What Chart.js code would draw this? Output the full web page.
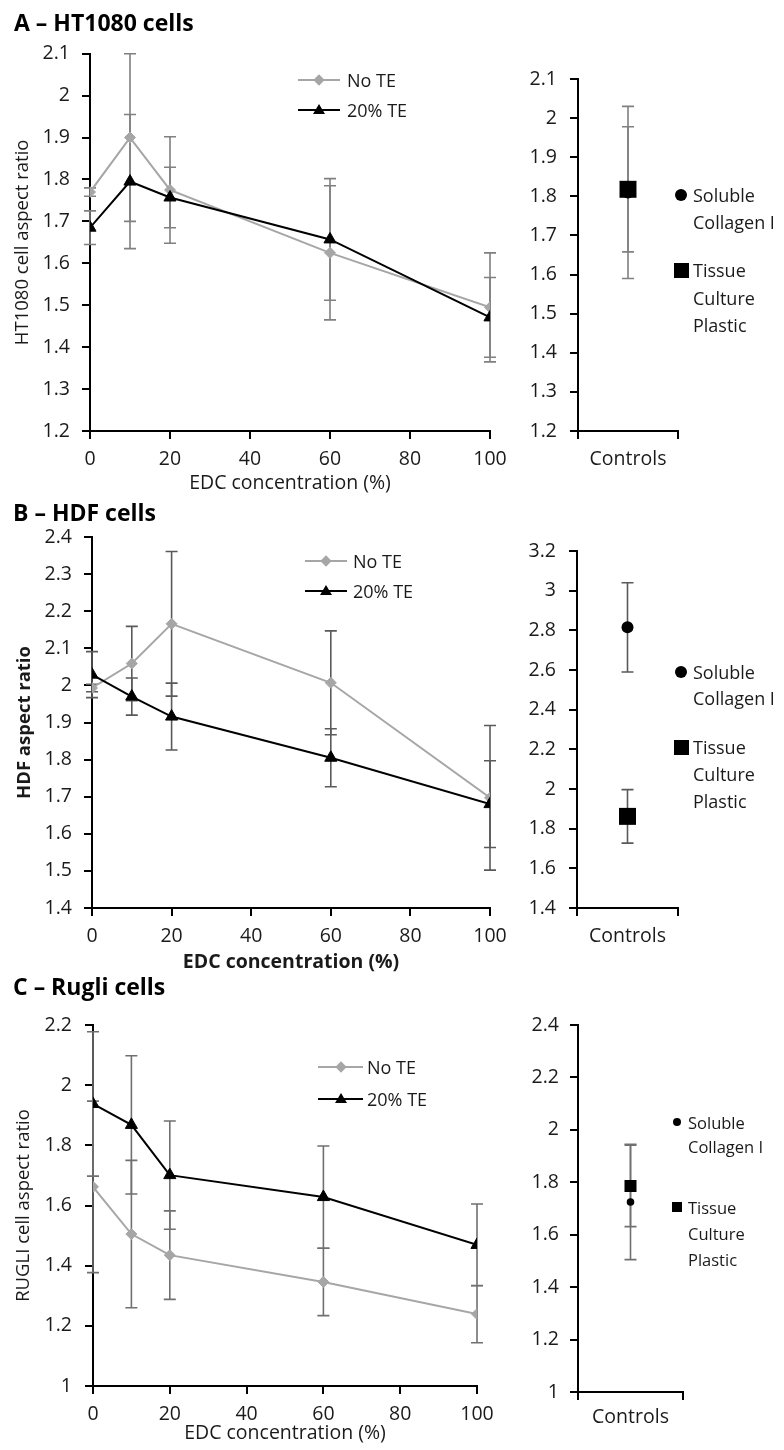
<!DOCTYPE html>
<html><head><meta charset="utf-8">
<script src="https://cdn.jsdelivr.net/npm/chart.js@4.4.1/dist/chart.umd.min.js"></script>
<style>
html,body{margin:0;padding:0;background:#fff;}
body{width:784px;height:1450px;position:relative;overflow:hidden;font-family:'Open Sans',sans-serif;color:#1a1a1a;}
canvas{position:absolute;}
.t{position:absolute;white-space:nowrap;transform:translateY(-50%);line-height:normal;}
.title{font-weight:bold;font-size:23px;color:#000;}
.lg{font-size:18px;}
.lgs{font-size:16.5px;}
.shape{position:absolute;}
</style>
</head><body>
<canvas id="aL"></canvas><canvas id="aR"></canvas>
<canvas id="bL"></canvas><canvas id="bR"></canvas>
<canvas id="cL"></canvas><canvas id="cR"></canvas>
<script>
// ---------- DATA ----------
const edcConc = [0, 10, 20, 60, 100];
const controlsCategory = ['Controls'];
const seriesNames = ['No TE', '20% TE'];
const controlNames = ['Soluble Collagen I', 'Tissue Culture Plastic'];

const ht1080NoTE = [1.77, 1.90, 1.775, 1.625, 1.495];
const ht1080NoTEErr = [0.01, 0.20, 0.127, 0.16, 0.13];
const ht1080TE20 = [1.685, 1.795, 1.757, 1.657, 1.471];
const ht1080TE20Err = [0.04, 0.16, 0.072, 0.145, 0.095];
const ht1080Collagen = [1.81];
const ht1080CollagenErr = [0.22];
const ht1080TCP = [1.818];
const ht1080TCPErr = [0.16];

const hdfNoTE = [1.993, 2.059, 2.166, 2.007, 1.697];
const hdfNoTEErr = [0.01, 0.10, 0.195, 0.14, 0.195];
const hdfTE20 = [2.029, 1.97, 1.916, 1.805, 1.68];
const hdfTE20Err = [0.062, 0.05, 0.09, 0.078, 0.117];
const hdfCollagen = [2.815];
const hdfCollagenErr = [0.225];
const hdfTCP = [1.862];
const hdfTCPErr = [0.135];

const rugliNoTE = [1.662, 1.505, 1.435, 1.346, 1.239];
const rugliNoTEErr = [0.285, 0.245, 0.147, 0.112, 0.095];
const rugliTE20 = [1.9375, 1.868, 1.701, 1.628, 1.469];
const rugliTE20Err = [0.24, 0.23, 0.18, 0.17, 0.136];
const rugliCollagen = [1.725];
const rugliCollagenErr = [0.22];
const rugliTCP = [1.786];
const rugliTCPErr = [0.155];

const xTicks = [0, 20, 40, 60, 80, 100];
const yTicksA = [1.2, 1.3, 1.4, 1.5, 1.6, 1.7, 1.8, 1.9, 2.0, 2.1];
const yTicksB = [1.4, 1.5, 1.6, 1.7, 1.8, 1.9, 2.0, 2.1, 2.2, 2.3, 2.4];
const yTicksBRight = [1.4, 1.6, 1.8, 2.0, 2.2, 2.4, 2.6, 2.8, 3.0, 3.2];
const yTicksC = [1.0, 1.2, 1.4, 1.6, 1.8, 2.0, 2.2];
const yTicksCRight = [1.0, 1.2, 1.4, 1.6, 1.8, 2.0, 2.2, 2.4];

// ---------- HELPERS ----------
const FONT = "'Open Sans', sans-serif";
const FS = 19.5;
const xy = (xs, ys) => xs.map((x, i) => ({x: x, y: ys[i]}));
const fmt = v => String(Math.round(v * 10) / 10);

const errorBars = {
  id: 'errorBars',
  beforeDatasetsDraw(chart, args, opts) {
    const ctx = chart.ctx, ys = chart.scales.y;
    ctx.save();
    ctx.strokeStyle = opts.color;
    ctx.lineWidth = opts.width;
    chart.data.datasets.forEach((ds, i) => {
      if (!ds.err) return;
      const meta = chart.getDatasetMeta(i);
      meta.data.forEach((pt, j) => {
        const raw = ds.data[j];
        const v = (typeof raw === 'object') ? raw.y : raw;
        const e = ds.err[j];
        const x = pt.x;
        const yt = ys.getPixelForValue(v + e), yb = ys.getPixelForValue(v - e);
        const c = opts.cap;
        ctx.beginPath();
        ctx.moveTo(x, yt); ctx.lineTo(x, yb);
        ctx.moveTo(x - c, yt); ctx.lineTo(x + c, yt);
        ctx.moveTo(x - c, yb); ctx.lineTo(x + c, yb);
        ctx.stroke();
      });
    });
    ctx.restore();
  }
};

function setupCanvas(id, box) {
  const cv = document.getElementById(id);
  cv.width = box.w; cv.height = box.h;
  cv.style.left = box.l + 'px'; cv.style.top = box.t + 'px';
  cv.style.width = box.w + 'px'; cv.style.height = box.h + 'px';
  return cv;
}

function axisBase(pad) {
  return {
    border: {display: true, color: '#000', width: 2},
    grid: {display: true, drawOnChartArea: false, drawTicks: true, tickLength: 8, color: '#000', lineWidth: 2},
    ticks: {color: '#1a1a1a', font: {family: FONT, size: FS}, padding: pad, maxRotation: 0, autoSkip: false}
  };
}

function leftChart(id, box, L) {
  const cv = setupCanvas(id, box);
  const xAxis = axisBase(9);
  Object.assign(xAxis, {
    type: 'linear', min: 0, max: 100,
    afterBuildTicks: s => { s.ticks = xTicks.map(v => ({value: v})); },
    afterFit: s => { s.height = L.hx; },
    title: {display: true, text: 'EDC concentration (%)', color: '#1a1a1a',
      font: {family: FONT, size: FS, weight: L.bold ? 'bold' : 'normal'}, padding: {top: 0, bottom: 1}}
  });
  const yAxis = axisBase(L.ypad);
  Object.assign(yAxis, {
    type: 'linear', min: L.yTicks[0], max: L.yTicks[L.yTicks.length - 1],
    afterBuildTicks: s => { s.ticks = L.yTicks.map(v => ({value: v})); },
    afterFit: s => { s.width = L.wy; },
    title: {display: true, text: L.ytitle, color: '#1a1a1a',
      font: {family: FONT, size: L.ytfs, weight: L.bold ? 'bold' : 'normal'}, padding: {top: L.ytp, bottom: 0}}
  });
  yAxis.ticks.callback = v => fmt(v);
  new Chart(cv, {
    type: 'line',
    data: {datasets: [
      {label: seriesNames[0], data: xy(edcConc, L.noTE), err: L.noTEErr,
       borderColor: '#a6a6a6', backgroundColor: '#a6a6a6', borderWidth: 2,
       pointStyle: 'rectRot', pointRadius: 5.5, pointBorderWidth: 1, order: 2},
      {label: seriesNames[1], data: xy(edcConc, L.te20), err: L.te20Err,
       borderColor: '#000', backgroundColor: '#000', borderWidth: 2,
       pointStyle: 'triangle', pointRadius: 7, pointBorderWidth: 1, order: 1}
    ]},
    options: {
      responsive: false, animation: false, events: [],
      layout: {padding: {left: 0, top: L.pt, right: L.pr, bottom: 0}},
      plugins: {legend: {display: false}, tooltip: {enabled: false},
        errorBars: {color: L.errColor, width: 1.6, cap: 6}},
      scales: {x: xAxis, y: yAxis}
    },
    plugins: [errorBars]
  });
}

function rightChart(id, box, R) {
  const cv = setupCanvas(id, box);
  const xAxis = axisBase(R.xpad);
  Object.assign(xAxis, {
    type: 'category', offset: true,
    afterFit: s => { s.height = R.hx; }
  });
  xAxis.grid.offset = true;
  const yAxis = axisBase(R.ypad);
  Object.assign(yAxis, {
    type: 'linear', min: R.yTicks[0], max: R.yTicks[R.yTicks.length - 1],
    afterBuildTicks: s => { s.ticks = R.yTicks.map(v => ({value: v})); },
    afterFit: s => { s.width = R.wy; }
  });
  yAxis.ticks.callback = v => fmt(v);
  new Chart(cv, {
    type: 'line',
    data: {labels: controlsCategory, datasets: [
      {label: controlNames[0], data: R.col, err: R.colErr, showLine: false,
       borderColor: '#000', backgroundColor: '#000', pointStyle: 'circle',
       pointRadius: R.cr, pointBorderWidth: 0, order: 2},
      {label: controlNames[1], data: R.tcp, err: R.tcpErr, showLine: false,
       borderColor: '#000', backgroundColor: '#000', pointStyle: 'rect',
       pointRadius: R.sr, pointBorderWidth: 0, order: 1}
    ]},
    options: {
      responsive: false, animation: false, events: [],
      layout: {padding: {left: 0, top: R.pt, right: R.pr, bottom: 0}},
      plugins: {legend: {display: false}, tooltip: {enabled: false},
        errorBars: {color: R.errColor, width: 1.6, cap: 6}},
      scales: {x: xAxis, y: yAxis}
    },
    plugins: [errorBars]
  });
}

// ---------- HTML text / legends ----------
function addText(txt, x, y, cls) {
  const d = document.createElement('div');
  d.className = 't ' + cls; d.textContent = txt;
  d.style.left = x + 'px'; d.style.top = y + 'px';
  document.body.appendChild(d);
}
function addShape(css) {
  const d = document.createElement('div');
  d.className = 'shape';
  Object.assign(d.style, css);
  document.body.appendChild(d);
}
function lineLegend(x1, x2, tx, ys) {
  const mid = (x1 + x2) / 2;
  addShape({left: x1 + 'px', top: (ys[0] - 1) + 'px', width: (x2 - x1) + 'px', height: '2px', background: '#a6a6a6'});
  addShape({left: (mid - 4) + 'px', top: (ys[0] - 4) + 'px', width: '8px', height: '8px', background: '#a6a6a6', transform: 'rotate(45deg)'});
  addText(seriesNames[0], tx, ys[0], 'lg');
  addShape({left: x1 + 'px', top: (ys[1] - 1) + 'px', width: (x2 - x1) + 'px', height: '2px', background: '#000'});
  addShape({left: (mid - 6) + 'px', top: (ys[1] - 6) + 'px', width: '0', height: '0',
    borderLeft: '6px solid transparent', borderRight: '6px solid transparent', borderBottom: '10px solid #000'});
  addText(seriesNames[1], tx, ys[1], 'lg');
}
function ctrlLegend(mx, tx, ys, cr, sq, cls) {
  addShape({left: (mx - cr) + 'px', top: (ys[0] - cr) + 'px', width: (2 * cr) + 'px', height: (2 * cr) + 'px', background: '#000', borderRadius: '50%'});
  addText('Soluble', tx, ys[0], cls);
  addText('Collagen I', tx, ys[1], cls);
  addShape({left: (mx - sq / 2) + 'px', top: (ys[2] - sq / 2) + 'px', width: sq + 'px', height: sq + 'px', background: '#000'});
  addText('Tissue', tx, ys[2], cls);
  addText('Culture', tx, ys[3], cls);
  addText('Plastic', tx, ys[4], cls);
}

// ---------- PANEL A ----------
addText('A – HT1080 cells', 14, 22, 'title');
leftChart('aL', {l: 0, t: 30, w: 520, h: 466}, {
  noTE: ht1080NoTE, noTEErr: ht1080NoTEErr, te20: ht1080TE20, te20Err: ht1080TE20Err,
  yTicks: yTicksA, ytitle: 'HT1080 cell aspect ratio', bold: false, ytfs: 18.5,
  wy: 90, hx: 65, pt: 23, pr: 30, ypad: 12, ytp: 12, errColor: '#808080'});
rightChart('aR', {l: 510, t: 30, w: 188, h: 466}, {
  col: ht1080Collagen, colErr: ht1080CollagenErr, tcp: ht1080TCP, tcpErr: ht1080TCPErr,
  yTicks: yTicksA, wy: 68, hx: 65, pt: 49, pr: 20, ypad: 13, xpad: 9, cr: 6, sr: 12, errColor: '#808080'});
lineLegend(298, 340, 347, [80, 110]);
ctrlLegend(681, 693, [195, 222, 270, 298, 325], 6, 15, 'lg');

// ---------- PANEL B ----------
addText('B – HDF cells', 13, 512, 'title');
leftChart('bL', {l: 0, t: 510, w: 520, h: 465}, {
  noTE: hdfNoTE, noTEErr: hdfNoTEErr, te20: hdfTE20, te20Err: hdfTE20Err,
  yTicks: yTicksB, ytitle: 'HDF aspect ratio', bold: true, ytfs: 18.5,
  wy: 92, hx: 67, pt: 27, pr: 30, ypad: 12, ytp: 14, errColor: '#5a5a5a'});
rightChart('bR', {l: 510, t: 510, w: 188, h: 465}, {
  col: hdfCollagen, colErr: hdfCollagenErr, tcp: hdfTCP, tcpErr: hdfTCPErr,
  yTicks: yTicksBRight, wy: 67, hx: 67, pt: 41, pr: 20, ypad: 13, xpad: 9, cr: 6, sr: 12, errColor: '#5a5a5a'});
lineLegend(305, 347, 353, [561, 591]);
ctrlLegend(681, 693, [672, 698, 747, 774, 801], 6, 15, 'lg');

// ---------- PANEL C ----------
addText('C – Rugli cells', 13, 986, 'title');
leftChart('cL', {l: 0, t: 995, w: 507, h: 451}, {
  noTE: rugliNoTE, noTEErr: rugliNoTEErr, te20: rugliTE20, te20Err: rugliTE20Err,
  yTicks: yTicksC, ytitle: 'RUGLI cell aspect ratio', bold: false, ytfs: 18.5,
  wy: 93, hx: 60, pt: 30, pr: 30, ypad: 13, ytp: 13, errColor: '#707070'});
rightChart('cR', {l: 510, t: 995, w: 193, h: 451}, {
  col: rugliCollagen, colErr: rugliCollagenErr, tcp: rugliTCP, tcpErr: rugliTCPErr,
  yTicks: yTicksCRight, wy: 68, hx: 54, pt: 30, pr: 20, ypad: 11, xpad: 6, cr: 3.8, sr: 8.5, errColor: '#707070'});
lineLegend(318, 363, 367, [1067, 1099]);
ctrlLegend(677, 688, [1122, 1146, 1207, 1233, 1259], 4, 10, 'lgs');
</script>
</body></html>
